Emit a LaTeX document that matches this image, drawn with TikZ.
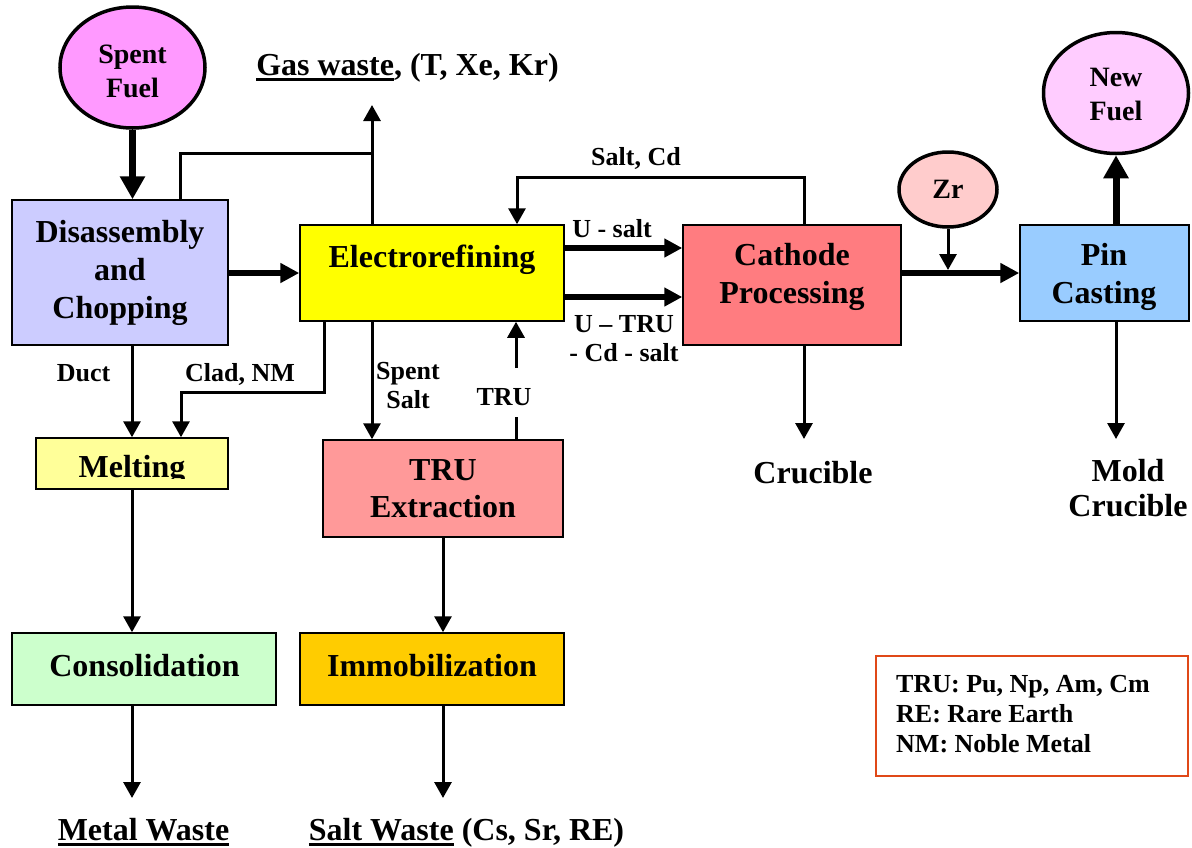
\documentclass[tikz,border=0pt]{standalone}
\usepackage{fontspec}
\setmainfont{Liberation Serif}
\usetikzlibrary{arrows.meta,shapes.geometric}
\definecolor{cSpent}{HTML}{FF99FF}
\definecolor{cNew}{HTML}{FFCCFF}
\definecolor{cDis}{HTML}{CCCCFF}
\definecolor{cER}{HTML}{FFFF00}
\definecolor{cCat}{HTML}{FF7C80}
\definecolor{cPin}{HTML}{99CCFF}
\definecolor{cZr}{HTML}{FFCCCC}
\definecolor{cMelt}{HTML}{FFFF99}
\definecolor{cTru}{HTML}{FF9999}
\definecolor{cCon}{HTML}{CCFFCC}
\definecolor{cImm}{HTML}{FFCC00}
\definecolor{cLeg}{RGB}{224,72,24}
\newcommand{\fbig}{\fontsize{32}{38}\selectfont\bfseries}
\newcommand{\fmid}{\fontsize{28}{34}\selectfont\bfseries}
\newcommand{\fsmall}{\fontsize{26}{29}\selectfont\bfseries}
\newcommand{\myul}[1]{\sbox0{#1}\rlap{\rule[-6pt]{\wd0}{3pt}}\usebox0}
\tikzset{
  procbox/.style={draw, line width=1.5pt, inner sep=0pt, align=center, font=\fbig},
  oval/.style={ellipse, draw, line width=3.5pt, inner sep=0pt, align=center, font=\fmid},
  txt/.style={inner sep=0pt, align=center},
  conn/.style={line width=3pt},
  arr/.style={line width=3pt, -{Triangle[length=16pt,width=17pt]}},
  medarr/.style={line width=5.5pt, -{Triangle[length=18pt,width=18pt]}},
  bigarr/.style={line width=6pt, -{Triangle[length=19pt,width=19pt]}},
  hugearr/.style={line width=7pt, -{Triangle[length=23pt,width=24pt]}},
}
\begin{document}
\begin{tikzpicture}[x=1pt,y=-1pt]
\useasboundingbox (0,0) rectangle (1192,847);
% ellipses
\node[oval, fill=cSpent, minimum width=145pt, minimum height=121pt] (sf) at (132.5,67.5) {};
\node[txt, font=\fmid] (sft) at (132.5,71.5) {Spent\\Fuel};
\node[oval, fill=cNew, minimum width=145pt, minimum height=121pt] (nf) at (1116,93) {};
\node[txt, font=\fmid] (nft) at (1116,94.5) {New\\Fuel};
\node[oval, fill=cZr, minimum width=98pt, minimum height=75pt] (zr) at (948,189.5) {Zr};
% boxes
\node[procbox, fill=cDis, minimum width=216pt, minimum height=145pt] (dis) at (120,272.5) {Disassembly\\and\\Chopping};
\node[procbox, fill=cER, minimum width=264pt, minimum height=96pt] (er) at (432,273) {};
\node[txt, font=\fbig, anchor=base] (ert) at (432,267) {Electrorefining};
\node[procbox, fill=cCat, minimum width=218pt, minimum height=120pt] (cat) at (792,285) {};
\node[txt, font=\fbig] (catt) at (792,276.5) {Cathode\\Processing};
\node[procbox, fill=cPin, minimum width=169pt, minimum height=96pt] (pin) at (1104.5,273) {};
\node[txt, font=\fbig] (pint) at (1104,277) {Pin\\Casting};
\node[procbox, fill=cMelt, minimum width=192pt, minimum height=51pt] (melt) at (132,463.5) {};
\begin{scope}
\clip (36,438) rectangle (228,478.5);
\node[txt, font=\fbig, anchor=base] (meltt) at (132,477) {Melting};
\end{scope}
\node[procbox, fill=cTru, minimum width=240pt, minimum height=97pt, font={\fontsize{32}{37}\selectfont\bfseries}] (tru) at (443,488.5) {TRU\\Extraction};
\node[procbox, fill=cCon, minimum width=264pt, minimum height=72pt] (con) at (144,669) {};
\node[txt, font=\fbig, anchor=base] (cont) at (144.5,676) {Consolidation};
\node[procbox, fill=cImm, minimum width=264pt, minimum height=72pt] (imm) at (432,669) {};
\node[txt, font=\fbig, anchor=base] (immt) at (432,676) {Immobilization};
% legend
\node[draw=cLeg, line width=1.5pt, minimum width=312pt, minimum height=120pt, inner sep=0pt] (leg) at (1032,716) {};
\node[txt, align=left, anchor=west, font={\fontsize{26}{30}\selectfont\bfseries}] (legt) at (896,714.5) {TRU: Pu, Np, Am, Cm\\RE: Rare Earth\\NM: Noble Metal};
% free-standing texts
\node[txt, font=\fbig, anchor=base] (gast) at (407.5,75) {\myul{Gas waste}, (T, Xe, Kr)};
\node[txt, font=\fbig, anchor=base] (mwt) at (143.5,840) {\myul{Metal Waste}};
\node[txt, font=\fbig, anchor=base] (swt) at (466.5,840) {\myul{Salt Waste} (Cs, Sr, RE)};
\node[txt, font=\fbig, anchor=base] (crt) at (813,483) {Crucible};
\node[txt, font={\fontsize{32}{35}\selectfont\bfseries}] (mct) at (1128,488.5) {Mold\\Crucible};
% connector labels
\node[txt, font=\fsmall, anchor=base] (lduct) at (83.5,381) {Duct};
\node[txt, font=\fsmall, anchor=base] (lclad) at (240,381) {Clad, NM};
\node[txt, font=\fsmall] (lss) at (408,385.5) {Spent\\Salt};
\node[txt, font=\fsmall, anchor=base] (ltru) at (504,405) {TRU};
\node[txt, font=\fsmall, anchor=base] (lus) at (612,237) {U - salt};
\node[txt, font=\fsmall] (lutru) at (624,338.7) {U -- TRU\\- Cd - salt};
\node[txt, font=\fsmall, anchor=base] (lscd) at (636,165) {Salt, Cd};
% helper coordinates
\coordinate (gas) at (372,105);
\coordinate (gj) at (372,153);
\coordinate (dj) at (180,153);
\coordinate (sc1) at (804,177);
\coordinate (sc2) at (517,177);
\coordinate (cru) at (804,439);
\coordinate (zrt) at (948,270);
\coordinate (cl1) at (324,392);
\coordinate (cl2) at (181,392);
\coordinate (t1) at (516,417);
\coordinate (t2) at (516,368);
\coordinate (mw) at (132,798);
\coordinate (sw) at (443,798);
% connectors
\draw[hugearr] (sf.south) -- (sf.south |- dis.north);
\draw[bigarr] (er.west -| dis.east) -- (er.west);
\draw[arr] (gas |- er.north) -- (gas);
\draw[conn] (dj |- dis.north) -- (dj) -- (gj);
\draw[medarr] ([yshift=25pt]er.east) coordinate (u1) -- (u1 -| cat.west);
\draw[medarr] ([yshift=-24pt]er.east) coordinate (u2) -- (u2 -| cat.west);
\draw[arr] (sc1 |- cat.north) -- (sc1) -- (sc2) -- (sc2 |- er.north);
\draw[arr] (cru |- cat.south) -- (cru);
\draw[arr] (zr.south) -- (zrt);
\draw[bigarr] (pin.west -| cat.east) -- (pin.west);
\draw[hugearr] (nf.south |- pin.north) -- (nf.south);
\draw[arr] (nf.south |- pin.south) -- (nf.south |- cru);
\draw[arr] (melt.north |- dis.south) -- (melt.north);
\draw[arr] (cl1 |- er.south) -- (cl1) -- (cl2) -- (cl2 |- melt.north);
\draw[arr] (gj |- er.south) -- (gj |- tru.north);
\draw[conn] (t1 |- tru.north) -- (t1);
\draw[arr] (t2) -- (t2 |- er.south);
\draw[arr] (tru.south) -- (tru.south |- imm.north);
\draw[arr] (melt.south) -- (melt.south |- con.north);
\draw[arr] (mw |- con.south) -- (mw);
\draw[arr] (sw |- imm.south) -- (sw);
\end{tikzpicture}
\end{document}
